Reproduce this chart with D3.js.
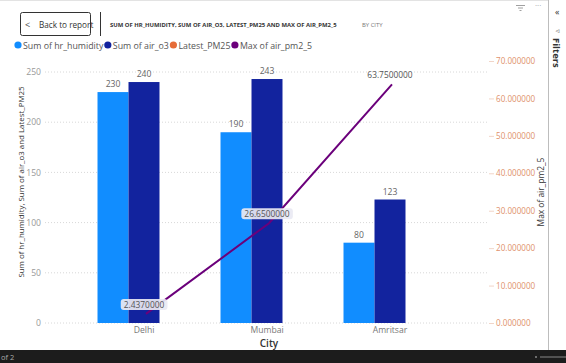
<!DOCTYPE html>
<html><head><meta charset="utf-8">
<script src="https://cdn.jsdelivr.net/npm/d3@7"></script>
<style>
html,body{margin:0;padding:0;background:#fff;}
svg{display:block;font-family:"Open Sans","Noto Sans",sans-serif;}
</style></head>
<body>
<svg id="c" width="566" height="363"></svg>
<script>
const cities = ["Delhi", "Mumbai", "Amritsar"];
const humidity = [230, 190, 80];
const airO3 = [240, 243, 123];
const latestPM25 = [null, null, null];
const maxPM25 = [2.437, 26.65, 63.75];
const leftTicks = [0, 50, 100, 150, 200, 250];
const rightTicks = [0, 10, 20, 30, 40, 50, 60, 70];
const legendNames = ["Sum of hr_humidity", "Sum of air_o3", "Latest_PM25", "Max of air_pm2_5"];
const colors = ["#118DFF", "#12239E", "#E66C37", "#6B007B"];

const svg = d3.select("#c");
svg.append("rect").attr("width", 566).attr("height", 363).attr("fill", "#fff");
svg.append("line").attr("x1", 0).attr("x2", 548).attr("y1", 0.5).attr("y2", 0.5).attr("stroke", "#e3e3e3");

// header
svg.append("rect").attr("x", 20.5).attr("y", 12.5).attr("width", 70).attr("height", 23).attr("rx", 2)
  .attr("fill", "#fff").attr("stroke", "#333").attr("stroke-width", 1);
svg.append("text").attr("x", 25).attr("y", 27.5).attr("font-size", 9).attr("fill", "#444").text("<");
svg.append("text").attr("x", 39).attr("y", 27.5).attr("font-size", 8.2).attr("fill", "#333").text("Back to report");
svg.append("line").attr("x1", 100.5).attr("x2", 100.5).attr("y1", 12).attr("y2", 36).attr("stroke", "#333");
svg.append("text").attr("x", 110).attr("y", 26.5).attr("font-size", 5.9).attr("font-weight", "bold").attr("fill", "#333")
  .text("SUM OF HR_HUMIDITY, SUM OF AIR_O3, LATEST_PM25 AND MAX OF AIR_PM2_5");
svg.append("text").attr("x", 362).attr("y", 26.5).attr("font-size", 5.9).attr("fill", "#777").text("BY CITY");

// top-right icons
const fi = svg.append("g").attr("stroke", "#888").attr("stroke-width", 0.8);
[[516, 525, 5.5], [518, 523, 8], [519.5, 521.5, 10.5]].forEach(d => fi.append("line").attr("x1", d[0]).attr("x2", d[1]).attr("y1", d[2]).attr("y2", d[2]));
svg.append("text").attr("x", 535).attr("y", 8).attr("font-size", 8).attr("fill", "#999").text("···");

// filters pane
svg.append("line").attr("x1", 548.5).attr("x2", 548.5).attr("y1", 0).attr("y2", 350).attr("stroke", "#bdbdbd");
svg.append("text").attr("x", 555).attr("y", 15).attr("font-size", 9).attr("fill", "#333").text("«");
svg.append("text").attr("x", 555).attr("y", 33).attr("font-size", 6).attr("fill", "#888").text("⊲");
svg.append("text").attr("transform", "translate(553,38) rotate(90)").attr("font-size", 9.5).attr("font-weight", "bold")
  .attr("fill", "#333").text("Filters");

// legend
let lx = 17;
const lg = svg.append("g");
legendNames.forEach((n, i) => {
  lg.append("circle").attr("cx", lx + 1).attr("cy", 45).attr("r", 3.6).attr("fill", colors[i]);
  const t = lg.append("text").attr("x", lx + 6).attr("y", 48.5).attr("font-size", 8.8).attr("fill", "#555").text(n);
  lx += 6 + t.node().getComputedTextLength() + 3.5;
});

// scales
const y = d3.scaleLinear().domain([0, 250]).range([323, 72]);
const y2 = d3.scaleLinear().domain([0, 70]).range([323, 61]);
const x = d3.scaleBand().domain(cities).range([82.5, 451.5]).paddingInner(0.244).paddingOuter(0.122);
const xs = d3.scaleBand().domain(["h", "o", "p"]).range([0, x.bandwidth()]);

// gridlines
const grid = svg.append("g");
leftTicks.forEach(t => grid.append("line").attr("x1", 45).attr("x2", 488).attr("y1", y(t)).attr("y2", y(t))
  .attr("stroke", "#d8d8d8").attr("stroke-dasharray", "1,2").attr("stroke-width", 1));

// left axis
const ya = svg.append("g").attr("transform", "translate(41,0)")
  .call(d3.axisLeft(y).tickValues(leftTicks).tickSize(0).tickPadding(0));
ya.select(".domain").remove();
ya.selectAll("text").attr("font-size", 8.6).attr("fill", "#999").attr("font-family", "Open Sans");

// right axis
const ya2 = svg.append("g").attr("transform", "translate(489,0)")
  .call(d3.axisRight(y2).tickValues(rightTicks).tickSize(5).tickPadding(2).tickFormat(d3.format(".6f")));
ya2.select(".domain").remove();
ya2.selectAll("line").attr("stroke", "#f1d5c8");
ya2.selectAll("text").attr("font-size", 8.1).attr("fill", "#E0916C").attr("font-family", "Open Sans");

// axis titles
svg.append("text").attr("transform", "translate(24,182) rotate(-90)").attr("text-anchor", "middle")
  .attr("font-size", 7.9).attr("fill", "#333").text("Sum of hr_humidity, Sum of air_o3 and Latest_PM25");
svg.append("text").attr("transform", "translate(544,192) rotate(-90)").attr("text-anchor", "middle")
  .attr("font-size", 8.4).attr("fill", "#333").text("Max of air_pm2_5");

// x axis
const xa = svg.append("g").attr("transform", "translate(0,327)")
  .call(d3.axisBottom(x).tickSize(0).tickPadding(0));
xa.select(".domain").remove();
xa.selectAll("text").attr("font-size", 8.6).attr("fill", "#777").attr("dy", "0.75em").attr("font-family", "Open Sans");
svg.append("text").attr("x", x("Mumbai") + x.bandwidth() / 2 + 2).attr("y", 347).attr("text-anchor", "middle")
  .attr("font-size", 10).attr("font-weight", "600").attr("fill", "#333").text("City");

// bars
const bars = svg.append("g");
cities.forEach((c, i) => {
  [["h", humidity[i], colors[0]], ["o", airO3[i], colors[1]], ["p", latestPM25[i], colors[2]]].forEach(([k, v, col]) => {
    if (v == null) return;
    const bx = x(c) + xs(k);
    bars.append("rect").attr("x", bx).attr("y", y(v)).attr("width", xs.bandwidth()).attr("height", y(0) - y(v)).attr("fill", col);
    bars.append("text").attr("x", bx + xs.bandwidth() / 2).attr("y", y(v) - 5).attr("text-anchor", "middle")
      .attr("font-size", 8.6).attr("fill", "#666").text(v);
  });
});

// line
const pts = cities.map((c, i) => [x(c) + x.bandwidth() / 2 + 2, y2(maxPM25[i])]);
svg.append("path").attr("d", d3.line()(pts)).attr("fill", "none").attr("stroke", colors[3]).attr("stroke-width", 2);
const lab = svg.append("g");
maxPM25.forEach((v, i) => {
  const [px, py] = pts[i];
  const t = d3.format(".7f")(v);
  const g = lab.append("g");
  const tx = g.append("text").attr("x", px - 2).attr("y", py - 6).attr("text-anchor", "middle")
    .attr("font-size", 8.4).attr("fill", "#555").text(t);
  if (i < 2) {
    const bb = tx.node().getBBox();
    g.insert("rect", "text").attr("x", bb.x - 3).attr("y", bb.y).attr("width", bb.width + 6).attr("height", bb.height)
      .attr("rx", 3).attr("fill", "#e9e9f3").attr("opacity", 0.92);
  }
});

// bottom bar
svg.append("rect").attr("x", 0).attr("y", 350).attr("width", 566).attr("height", 13).attr("fill", "#1c1c1c");
svg.append("text").attr("x", 1).attr("y", 360).attr("font-size", 7.5).attr("fill", "#aaa").text("of 2");
svg.append("circle").attr("cx", 536).attr("cy", 357).attr("r", 1).attr("fill", "#888");
svg.append("line").attr("x1", 540).attr("x2", 566).attr("y1", 357).attr("y2", 357).attr("stroke", "#888");
</script>
</body></html>
